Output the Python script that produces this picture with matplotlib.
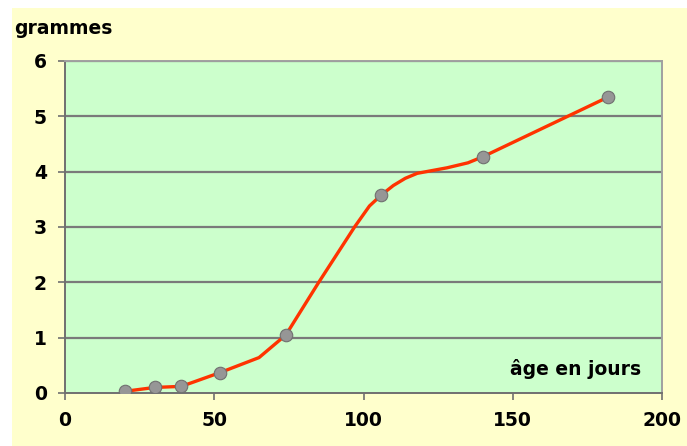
import matplotlib
matplotlib.use("Agg")
import matplotlib.pyplot as plt
from matplotlib.patches import Rectangle

# measured points (with markers)
age_days = [20, 30, 39, 52, 74, 106, 140, 182]
mass_g = [0.03, 0.10, 0.12, 0.37, 1.05, 3.58, 4.27, 5.35]

# line path (includes unmarked intermediate points)
line_days = [20, 30, 39, 52, 65, 74, 85, 97, 102, 106, 110, 114, 118, 128, 135, 140, 182]
line_mass = [0.03, 0.10, 0.12, 0.37, 0.64, 1.05, 2.0, 3.0, 3.38, 3.58, 3.75, 3.88, 3.97, 4.07, 4.16, 4.27, 5.35]

x_ticks = [0, 50, 100, 150, 200]
y_ticks = [0, 1, 2, 3, 4, 5, 6]

W, H = 687, 446
fig = plt.figure(figsize=(W / 100, H / 100), dpi=100)
fig.patch.set_facecolor("white")
bg = Rectangle((12 / W, 0), 1 - 12 / W, 1 - 8 / H, transform=fig.transFigure,
               facecolor="#FFFFCC", edgecolor="none", zorder=-10)
fig.add_artist(bg)

FONT = "DejaVu Sans"
FS = 13.5

left, right, top, bottom = 65, 662, 61, 393
ax = fig.add_axes([left / W, 1 - bottom / H, (right - left) / W, (bottom - top) / H])
ax.set_zorder(1)
ax.set_facecolor("#CCFFCC")
ax.set_xlim(0, 200)
ax.set_ylim(0, 6)
ax.set_xticks(x_ticks)
ax.set_yticks(y_ticks)
for v in y_ticks[1:]:
    ax.axhline(v, color="#7A7A7A", lw=1.6, zorder=1)
for s in ax.spines.values():
    s.set_color("#A0A0A0")
    s.set_linewidth(1.4)
ax.spines["left"].set_color("#707070")
ax.spines["bottom"].set_color("#707070")
ax.tick_params(axis="both", direction="out", length=5, width=1.2, color="#707070",
               labelsize=FS)
ax.tick_params(axis="y", pad=8)
ax.tick_params(axis="x", pad=8)
for lab in ax.get_xticklabels() + ax.get_yticklabels():
    lab.set_fontfamily(FONT)
    lab.set_fontweight("bold")

ax.plot(line_days, line_mass, color="#FF3300", lw=2.4, zorder=3, solid_joinstyle="round")
ax.plot(age_days, mass_g, linestyle="none", marker="o", markersize=9,
        markerfacecolor="#969696", markeredgecolor="#707070", markeredgewidth=0.8, zorder=4)

fig.text(14 / W, 1 - 28 / H, "grammes", fontsize=FS, fontweight="bold",
         family=FONT, va="center", ha="left")
ax.text(193, 0.43, "âge en jours", fontsize=FS, fontweight="bold",
        family=FONT, va="center", ha="right")

fig.savefig("out.png", dpi=100, facecolor=fig.get_facecolor())
